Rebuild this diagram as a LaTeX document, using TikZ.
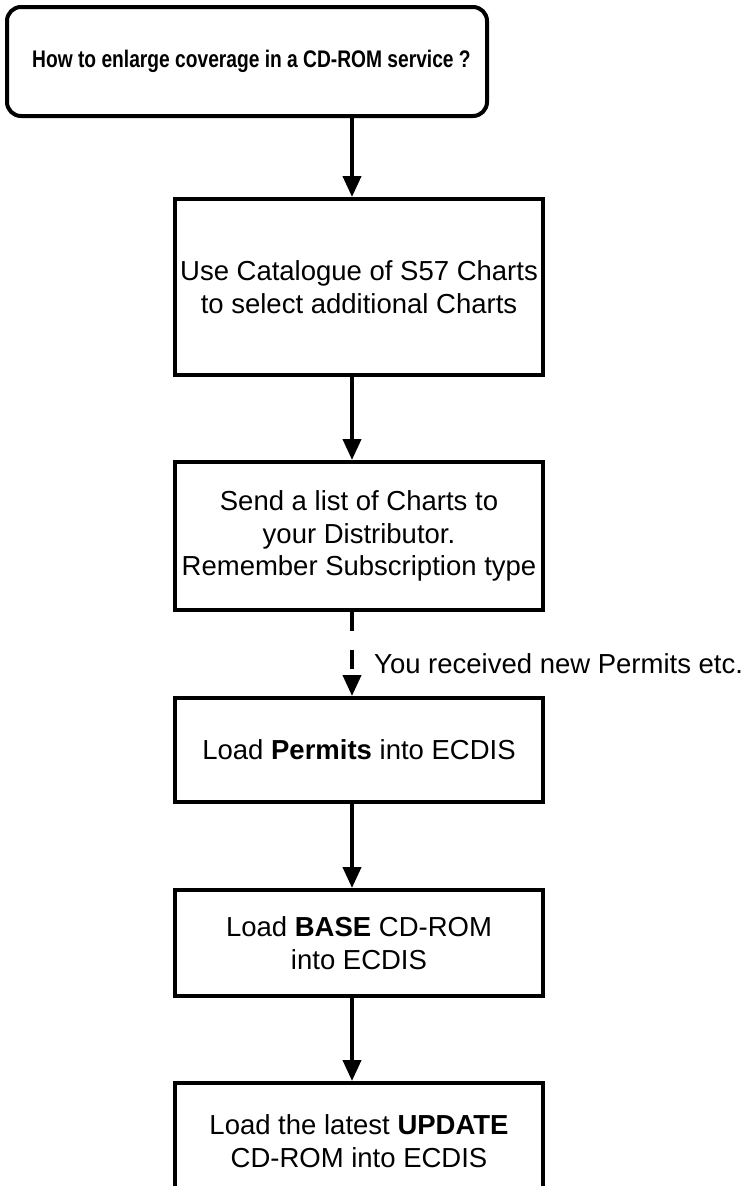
\documentclass[tikz,border=0pt]{standalone}
\usepackage{fontspec}
\setmainfont{Liberation Sans}
\usetikzlibrary{arrows.meta}
\begin{document}
\begin{tikzpicture}[x=1pt,y=-1pt,
  stepbox/.style={draw, line width=4pt, rectangle, inner sep=0pt, align=center,
    minimum width=368pt, font=\fontsize{27.5}{32.5}\selectfont},
  titlebox/.style={draw, line width=4pt, rounded corners=14pt, inner sep=0pt,
    minimum width=480pt, minimum height=109pt, font=\fontsize{24}{28}\selectfont\bfseries},
  flow/.style={line width=4pt, -{Triangle[width=18pt,length=21pt]}},
  lbl/.style={inner sep=0pt, font=\fontsize{27.5}{32.5}\selectfont}
]
\useasboundingbox (0,0) rectangle (746,1186);
\clip (0,0) rectangle (746,1186);
\fill[white] (0,0) rectangle (746,1186);

\node[titlebox] (t) at (247,61.5) {\hspace*{9pt}\scalebox{0.8}[1]{How to enlarge coverage in a CD-ROM service ?}};
\node[stepbox, minimum height=176pt] (b2) at (359,287) {Use Catalogue of S57 Charts\\ to select additional Charts};
\node[stepbox, minimum height=148pt] (b3) at (359,536) {Send a list of Charts to\\your Distributor.\\Remember Subscription type};
\node[stepbox, minimum height=104pt] (b4) at (359,750) {Load \textbf{Permits} into ECDIS};
\node[stepbox, minimum height=106pt] (b5) at (359,943) {Load \textbf{BASE} CD-ROM\\ into ECDIS};
\node[stepbox, minimum height=116pt] (b6) at (359,1141) {Load the latest \textbf{UPDATE}\\CD-ROM into ECDIS};

\coordinate (ax) at (352,0);
\draw[flow] (t.south -| ax) -- (b2.north -| ax);
\draw[flow] (b2.south -| ax) -- (b3.north -| ax);
\draw[flow, dash pattern=on 19pt off 19pt] (b3.south -| ax) -- (b4.north -| ax);
\draw[flow] (b4.south -| ax) -- (b5.north -| ax);
\draw[flow] (b5.south -| ax) -- (b6.north -| ax);

\node[lbl, anchor=base west] (note) at (374,673) {You received new Permits etc.};
\end{tikzpicture}
\end{document}
